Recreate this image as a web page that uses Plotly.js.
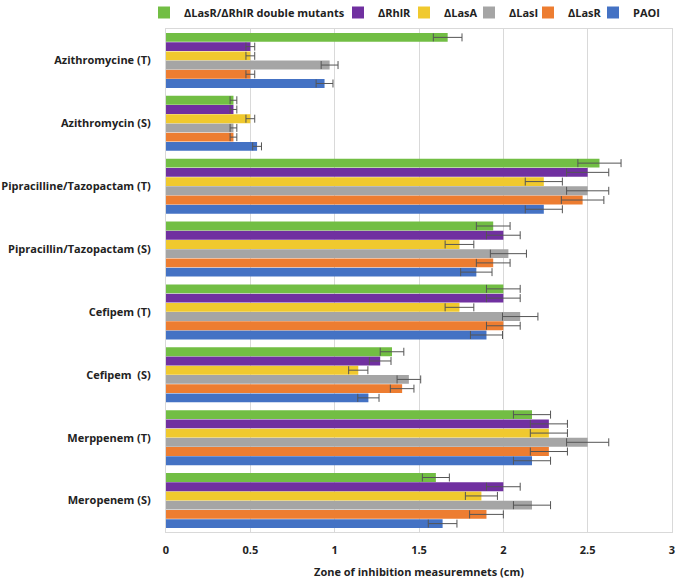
<!DOCTYPE html>
<html>
<head>
<meta charset="utf-8">
<script src="https://cdn.plot.ly/plotly-3.0.1.min.js"></script>
<style>html,body{margin:0;padding:0;background:#fff;}#chart{width:677px;height:583px;}</style>
</head>
<body>
<div id="chart"></div>
<script>
const categories = ['Meropenem (S)', 'Merppenem (T)', 'Cefipem  (S)', 'Cefipem (T)',
  'Pipracillin/Tazopactam (S)', 'Pipracilline/Tazopactam (T)', 'Azithromycin (S)', 'Azithromycine (T)'];

const seriesNames = ['PAOI', 'ΔLasR', 'ΔLasI', 'ΔLasA', 'ΔRhlR', 'ΔLasR/ΔRhlR double mutants'];
const seriesColors = ['#4472C4', '#ED7D31', '#A5A5A5', '#F0C92E', '#7030A0', '#72BE44'];

const paoi      = [1.64, 2.17, 1.20, 1.90, 1.84, 2.24, 0.54, 0.94];
const lasR      = [1.90, 2.27, 1.40, 2.00, 1.94, 2.47, 0.40, 0.50];
const lasI      = [2.17, 2.50, 1.44, 2.10, 2.03, 2.50, 0.40, 0.97];
const lasA      = [1.87, 2.27, 1.14, 1.74, 1.74, 2.24, 0.50, 0.50];
const rhlR      = [2.00, 2.27, 1.27, 2.00, 2.00, 2.50, 0.40, 0.50];
const doubleMut = [1.60, 2.17, 1.34, 2.00, 1.94, 2.57, 0.40, 1.67];

const paoiErr      = [0.085, 0.11, 0.063, 0.095, 0.093, 0.11, 0.026, 0.05];
const lasRErr      = [0.10, 0.11, 0.07, 0.10, 0.10, 0.126, 0.02, 0.026];
const lasIErr      = [0.11, 0.125, 0.07, 0.105, 0.107, 0.125, 0.02, 0.05];
const lasAErr      = [0.095, 0.11, 0.057, 0.085, 0.085, 0.11, 0.026, 0.026];
const rhlRErr      = [0.10, 0.11, 0.064, 0.10, 0.10, 0.125, 0.02, 0.026];
const doubleMutErr = [0.08, 0.11, 0.07, 0.10, 0.10, 0.128, 0.02, 0.085];

const values = [paoi, lasR, lasI, lasA, rhlR, doubleMut];
const errors = [paoiErr, lasRErr, lasIErr, lasAErr, rhlRErr, doubleMutErr];

// one small legend per series so the legend row matches the reference spacing
const legendIds = ['legend6', 'legend5', 'legend4', 'legend3', 'legend2', 'legend'];
const legendTextX = [632, 567, 508, 443, 377, 183];

const traces = seriesNames.map((name, i) => ({
  type: 'bar',
  orientation: 'h',
  name: name,
  legend: legendIds[i],
  y: categories,
  x: values[i],
  marker: {color: seriesColors[i], line: {width: 0}},
  error_x: {type: 'data', array: errors[i], visible: true, color: '#555555', thickness: 1, width: 4}
}));

const fam = '"Open Sans", "Liberation Sans", sans-serif';
const boldFont = {family: fam, size: 11, color: '#222', weight: 'bold'};

const layout = {
  width: 677, height: 583,
  margin: {l: 166, r: 5, t: 29, b: 51, autoexpand: false},
  paper_bgcolor: '#fff', plot_bgcolor: '#fff',
  barmode: 'group',
  bargap: 0.12,
  bargroupgap: 0.04,
  font: {family: fam, size: 11, color: '#222'},
  showlegend: true,
  xaxis: {
    range: [0, 3], dtick: 0.5, tick0: 0,
    showgrid: true, gridcolor: '#D9D9D9', gridwidth: 1,
    zeroline: false,
    showline: true, mirror: true, linecolor: '#D9D9D9', linewidth: 1,
    ticks: '', ticklabelstandoff: 8,
    tickfont: boldFont,
    title: {text: 'Zone of inhibition measuremnets (cm)', standoff: 12, font: boldFont}
  },
  yaxis: {
    type: 'category',
    categoryorder: 'array', categoryarray: categories,
    showgrid: false, zeroline: false,
    showline: true, mirror: true, linecolor: '#D9D9D9', linewidth: 1,
    ticks: '', ticklabelstandoff: 12,
    tickfont: boldFont
  }
};

legendIds.forEach((id, i) => {
  layout[id] = {
    orientation: 'h',
    xref: 'container', yref: 'container',
    x: (legendTextX[i] - 39) / 677, xanchor: 'left',
    y: 1 - 12.5 / 583, yanchor: 'middle',
    font: boldFont, itemwidth: 30,
    bgcolor: 'rgba(0,0,0,0)'
  };
});

Plotly.newPlot('chart', traces, layout, {displayModeBar: false, responsive: false});
</script>
</body>
</html>
